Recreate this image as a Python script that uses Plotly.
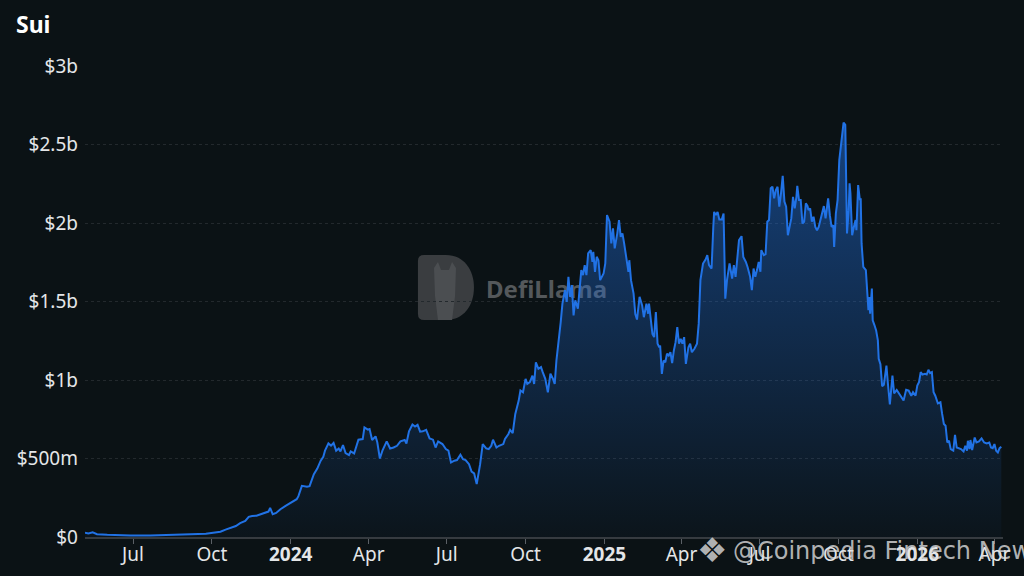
import plotly.graph_objects as go

# Sui TVL in $m
tvl_2023 = [
    ("2023-05-06", 28), ("2023-05-10", 22), ("2023-05-15", 30), ("2023-05-20", 18),
    ("2023-06-01", 14), ("2023-06-13", 10), ("2023-06-28", 9), ("2023-07-21", 10),
    ("2023-08-14", 12), ("2023-09-06", 17), ("2023-09-24", 21), ("2023-10-03", 30),
    ("2023-10-11", 34), ("2023-10-17", 47), ("2023-10-23", 59), ("2023-10-29", 70),
    ("2023-11-03", 88), ("2023-11-09", 102), ("2023-11-13", 128), ("2023-11-17", 134),
    ("2023-11-22", 136), ("2023-11-29", 149), ("2023-12-06", 162), ("2023-12-08", 185),
    ("2023-12-11", 145), ("2023-12-15", 153), ("2023-12-20", 177), ("2023-12-26", 198),
    ("2023-12-31", 213),
]

tvl_2024 = [
    ("2024-01-04", 225), ("2024-01-08", 241), ("2024-01-10", 260), ("2024-01-14", 326),
    ("2024-01-20", 320), ("2024-01-23", 324), ("2024-01-28", 400), ("2024-02-01", 436),
    ("2024-02-05", 486), ("2024-02-08", 511), ("2024-02-10", 550), ("2024-02-14", 596),
    ("2024-02-17", 582), ("2024-02-20", 599), ("2024-02-23", 550), ("2024-02-26", 564),
    ("2024-02-28", 545), ("2024-03-02", 586), ("2024-03-05", 535), ("2024-03-09", 522),
    ("2024-03-11", 545), ("2024-03-15", 532), ("2024-03-20", 620), ("2024-03-25", 624),
    ("2024-03-27", 698), ("2024-03-31", 684), ("2024-04-02", 688), ("2024-04-05", 618),
    ("2024-04-09", 641), ("2024-04-11", 603), ("2024-04-14", 500), ("2024-04-17", 550),
    ("2024-04-22", 609), ("2024-04-26", 564), ("2024-04-30", 570), ("2024-05-04", 581),
    ("2024-05-08", 609), ("2024-05-13", 618), ("2024-05-15", 596), ("2024-05-18", 673),
    ("2024-05-22", 716), ("2024-05-25", 703), ("2024-05-28", 714), ("2024-05-31", 671),
    ("2024-06-03", 673), ("2024-06-07", 682), ("2024-06-11", 628), ("2024-06-15", 620),
    ("2024-06-18", 570), ("2024-06-21", 609), ("2024-06-26", 592), ("2024-06-30", 560),
    ("2024-07-03", 550), ("2024-07-06", 475), ("2024-07-10", 486), ("2024-07-13", 490),
    ("2024-07-17", 524), ("2024-07-20", 496), ("2024-07-23", 490), ("2024-07-27", 464),
    ("2024-07-30", 417), ("2024-08-02", 405), ("2024-08-05", 337), ("2024-08-09", 464),
    ("2024-08-12", 592), ("2024-08-16", 564), ("2024-08-19", 560), ("2024-08-22", 581),
    ("2024-08-24", 620), ("2024-08-28", 570), ("2024-08-31", 581), ("2024-09-05", 592),
    ("2024-09-07", 624), ("2024-09-11", 656), ("2024-09-13", 682), ("2024-09-16", 662),
    ("2024-09-19", 784), ("2024-09-23", 869), ("2024-09-25", 933), ("2024-09-28", 922),
    ("2024-10-01", 1007), ("2024-10-03", 975), ("2024-10-06", 986), ("2024-10-09", 1028),
    ("2024-10-11", 975), ("2024-10-13", 1113), ("2024-10-16", 1071), ("2024-10-19", 1082),
    ("2024-10-21", 1050), ("2024-10-24", 1007), ("2024-10-27", 922), ("2024-10-30", 1040),
    ("2024-11-02", 1007), ("2024-11-04", 975), ("2024-11-06", 1125), ("2024-11-09", 1252),
    ("2024-11-11", 1369), ("2024-11-13", 1487), ("2024-11-16", 1572), ("2024-11-18", 1497),
    ("2024-11-20", 1657), ("2024-11-22", 1529), ("2024-11-24", 1604), ("2024-11-26", 1412),
    ("2024-11-28", 1508), ("2024-12-01", 1454), ("2024-12-03", 1572), ("2024-12-05", 1700),
    ("2024-12-07", 1668), ("2024-12-09", 1732), ("2024-12-11", 1668), ("2024-12-13", 1806),
    ("2024-12-16", 1827), ("2024-12-18", 1752), ("2024-12-19", 1816), ("2024-12-21", 1689),
    ("2024-12-23", 1785), ("2024-12-25", 1763), ("2024-12-27", 1636), ("2024-12-29", 1657),
    ("2024-12-31", 1678),
]

tvl_2025 = [
    ("2025-01-02", 1742), ("2025-01-04", 2050), ("2025-01-07", 2008), ("2025-01-09", 1870),
    ("2025-01-11", 1966), ("2025-01-13", 1838), ("2025-01-16", 1934), ("2025-01-18", 2019),
    ("2025-01-20", 1912), ("2025-01-22", 1934), ("2025-01-24", 1870), ("2025-01-27", 1763),
    ("2025-01-29", 1689), ("2025-01-30", 1763), ("2025-02-01", 1636), ("2025-02-04", 1550),
    ("2025-02-06", 1420), ("2025-02-08", 1385), ("2025-02-11", 1530), ("2025-02-14", 1475),
    ("2025-02-16", 1400), ("2025-02-19", 1486), ("2025-02-21", 1422), ("2025-02-22", 1486),
    ("2025-02-24", 1380), ("2025-02-26", 1294), ("2025-02-28", 1273), ("2025-03-02", 1433),
    ("2025-03-04", 1231), ("2025-03-06", 1209), ("2025-03-07", 1220), ("2025-03-09", 1039),
    ("2025-03-11", 1124), ("2025-03-13", 1113), ("2025-03-15", 1167), ("2025-03-17", 1156),
    ("2025-03-19", 1177), ("2025-03-21", 1107), ("2025-03-23", 1188), ("2025-03-25", 1241),
    ("2025-03-27", 1337), ("2025-03-29", 1231), ("2025-03-31", 1263), ("2025-04-02", 1231),
    ("2025-04-04", 1273), ("2025-04-06", 1103), ("2025-04-09", 1209), ("2025-04-11", 1231),
    ("2025-04-13", 1177), ("2025-04-16", 1199), ("2025-04-19", 1231), ("2025-04-21", 1359),
    ("2025-04-23", 1636), ("2025-04-26", 1742), ("2025-04-29", 1767), ("2025-05-01", 1795),
    ("2025-05-03", 1732), ("2025-05-06", 1710), ("2025-05-08", 1975), ("2025-05-09", 2071),
    ("2025-05-11", 2050), ("2025-05-13", 2071), ("2025-05-15", 2023), ("2025-05-18", 2023),
    ("2025-05-20", 2061), ("2025-05-22", 1518), ("2025-05-24", 1636), ("2025-05-27", 1742),
    ("2025-05-30", 1646), ("2025-06-01", 1732), ("2025-06-03", 1657), ("2025-06-07", 1891),
    ("2025-06-10", 1916), ("2025-06-12", 1784), ("2025-06-15", 1752), ("2025-06-17", 1720),
    ("2025-06-20", 1657), ("2025-06-22", 1572), ("2025-06-24", 1710), ("2025-06-26", 1657),
    ("2025-06-28", 1700), ("2025-06-30", 1752), ("2025-07-02", 1689), ("2025-07-03", 1827),
    ("2025-07-06", 1795), ("2025-07-08", 1801), ("2025-07-10", 2008), ("2025-07-12", 2019),
    ("2025-07-14", 2221), ("2025-07-16", 2231), ("2025-07-18", 2157), ("2025-07-20", 2210),
    ("2025-07-22", 2231), ("2025-07-24", 2104), ("2025-07-26", 2189), ("2025-07-28", 2300),
    ("2025-07-30", 2136), ("2025-08-01", 2104), ("2025-08-03", 1922), ("2025-08-05", 1975),
    ("2025-08-07", 2029), ("2025-08-09", 2167), ("2025-08-11", 2093), ("2025-08-13", 2167),
    ("2025-08-14", 2236), ("2025-08-16", 2146), ("2025-08-18", 2146), ("2025-08-20", 1997),
    ("2025-08-22", 2008), ("2025-08-24", 2125), ("2025-08-26", 2108), ("2025-08-27", 2082),
    ("2025-08-29", 2093), ("2025-08-31", 2008), ("2025-09-02", 2040), ("2025-09-04", 1975),
    ("2025-09-06", 1954), ("2025-09-08", 1975), ("2025-09-10", 2019), ("2025-09-12", 2061),
    ("2025-09-14", 2108), ("2025-09-16", 2029), ("2025-09-18", 2146), ("2025-09-19", 2157),
    ("2025-09-21", 2050), ("2025-09-23", 1975), ("2025-09-25", 1986), ("2025-09-26", 1848),
    ("2025-09-28", 2061), ("2025-09-30", 2146), ("2025-10-02", 2401), ("2025-10-04", 2486),
    ("2025-10-06", 2561), ("2025-10-07", 2640), ("2025-10-09", 2625), ("2025-10-10", 2359),
    ("2025-10-11", 1934), ("2025-10-13", 2082), ("2025-10-14", 2253), ("2025-10-15", 2189),
    ("2025-10-17", 1922), ("2025-10-19", 1975), ("2025-10-21", 2019), ("2025-10-22", 1954),
    ("2025-10-24", 2242), ("2025-10-26", 2146), ("2025-10-27", 2157), ("2025-10-28", 1870),
    ("2025-10-30", 1720), ("2025-11-02", 1700), ("2025-11-04", 1520), ("2025-11-05", 1444),
    ("2025-11-06", 1529), ("2025-11-07", 1422), ("2025-11-09", 1582), ("2025-11-10", 1380),
    ("2025-11-12", 1350), ("2025-11-14", 1316), ("2025-11-16", 1252), ("2025-11-17", 1135),
    ("2025-11-19", 1100), ("2025-11-21", 960), ("2025-11-23", 970), ("2025-11-26", 1092),
    ("2025-11-28", 960), ("2025-11-30", 845), ("2025-12-03", 1028), ("2025-12-05", 915),
    ("2025-12-08", 937), ("2025-12-11", 911), ("2025-12-13", 900), ("2025-12-16", 869),
    ("2025-12-19", 937), ("2025-12-22", 932), ("2025-12-25", 900), ("2025-12-27", 922),
    ("2025-12-30", 900),
]

tvl_2026 = [
    ("2026-01-01", 964), ("2026-01-03", 986), ("2026-01-05", 1050), ("2026-01-07", 1035),
    ("2026-01-10", 1039), ("2026-01-12", 1035), ("2026-01-14", 1065), ("2026-01-16", 1044),
    ("2026-01-18", 1050), ("2026-01-20", 922), ("2026-01-22", 900), ("2026-01-25", 851),
    ("2026-01-28", 858), ("2026-01-30", 784), ("2026-02-01", 720), ("2026-02-03", 709),
    ("2026-02-05", 602), ("2026-02-07", 613), ("2026-02-09", 560), ("2026-02-12", 550),
    ("2026-02-14", 650), ("2026-02-16", 570), ("2026-02-19", 564), ("2026-02-21", 560),
    ("2026-02-24", 545), ("2026-02-26", 581), ("2026-02-28", 550), ("2026-03-01", 613),
    ("2026-03-03", 560), ("2026-03-04", 618), ("2026-03-06", 554), ("2026-03-09", 634),
    ("2026-03-11", 602), ("2026-03-14", 609), ("2026-03-17", 628), ("2026-03-20", 602),
    ("2026-03-23", 596), ("2026-03-26", 602), ("2026-03-28", 570), ("2026-03-30", 566),
    ("2026-04-01", 592), ("2026-04-03", 550), ("2026-04-05", 539), ("2026-04-07", 566),
    ("2026-04-09", 575),
]

x_tick_dates = ["2023-07-01", "2023-10-01", "2024-01-01", "2024-04-01", "2024-07-01",
                "2024-10-01", "2025-01-01", "2025-04-01", "2025-07-01", "2025-10-01",
                "2026-01-01", "2026-04-01"]
x_tick_labels = ["Jul", "Oct", "<b>2024</b>", "Apr", "Jul", "Oct", "<b>2025</b>",
                 "Apr", "Jul", "Oct", "<b>2026</b>", "Apr"]
y_tick_vals = [0, 500, 1000, 1500, 2000, 2500, 3000]
y_tick_labels = ["$0", "$500m", "$1b", "$1.5b", "$2b", "$2.5b", "$3b"]

rows = tvl_2023 + tvl_2024 + tvl_2025 + tvl_2026
dates = [d for d, _ in rows]
tvl = [v for _, v in rows]

BG = "#0b1215"
LINE = "#2172E5"
W, H = 1024, 576
M_L, M_R, M_T, M_B = 85, 21, 66, 39


def px(x, y):
    """page pixel -> paper coords (for the watermark decorations)"""
    return (x - M_L) / (W - M_L - M_R), (H - M_B - y) / (H - M_T - M_B)


def path(points):
    out = []
    for cmd, pts in points:
        coords = " ".join("%.4f,%.4f" % px(*p) for p in pts)
        out.append(cmd + " " + coords)
    return " ".join(out) + " Z"


fig = go.Figure()

fig.add_trace(go.Scatter(
    x=dates, y=tvl,
    mode="lines",
    line=dict(color=LINE, width=2),
    fill="tozeroy",
    fillgradient=dict(
        type="vertical",
        colorscale=[[0, "rgba(33,114,229,0.03)"], [1, "rgba(33,114,229,0.5)"]],
    ),
    hoverinfo="skip",
))

# DefiLlama watermark (logo + wordmark), drawn under the data
d_logo = path([
    ("M", [(424, 255)]), ("L", [(446, 255)]),
    ("C", [(464, 255), (474, 270), (474, 287.5)]),
    ("C", [(474, 305), (464, 320), (446, 320)]),
    ("L", [(424, 320)]), ("Q", [(418, 320), (418, 314)]),
    ("L", [(418, 261)]), ("Q", [(418, 255), (424, 255)]),
])
llama = path([
    ("M", [(434, 268)]), ("L", [(438, 262)]), ("L", [(441, 270)]),
    ("L", [(449, 270)]), ("L", [(452, 262)]), ("L", [(456, 268)]),
    ("L", [(455, 296)]), ("L", [(452, 320)]), ("L", [(438, 320)]),
    ("L", [(435, 296)]),
])
fig.add_shape(type="path", path=d_logo, xref="paper", yref="paper",
              fillcolor="#3a3d40", line=dict(width=0), layer="below")
fig.add_shape(type="path", path=llama, xref="paper", yref="paper",
              fillcolor="#4b4e51", line=dict(width=0), layer="below")
lx0, ly0 = px(480, 276)
lx1, ly1 = px(608, 304)
fig.add_shape(type="rect", xref="paper", yref="paper", x0=lx0, x1=lx1, y0=ly1, y1=ly0,
              line=dict(width=0), fillcolor="rgba(0,0,0,0)", layer="below",
              label=dict(text="<b>DefiLlama</b>", textposition="middle left",
                         font=dict(family="Noto Sans", size=24, color="#54585b")))

# Coinpedia watermark
ax, ay = px(731, 551)
fig.add_annotation(x=ax, y=ay, xref="paper", yref="paper", xanchor="left", yanchor="middle",
                   text="@Coinpedia Fintech News", showarrow=False,
                   font=dict(family="DejaVu Sans", size=24, color="rgba(222,222,222,0.8)"))
bx, by = px(712, 550)
fig.add_annotation(x=bx, y=by, xref="paper", yref="paper", xanchor="center", yanchor="middle",
                   text="❖", showarrow=False,
                   font=dict(family="DejaVu Sans", size=34, color="rgba(222,222,222,0.8)"))

fig.update_layout(
    width=W, height=H,
    paper_bgcolor=BG, plot_bgcolor=BG,
    margin=dict(l=M_L, r=M_R, t=M_T, b=M_B),
    showlegend=False,
    font=dict(family="Noto Sans", size=19, color="#e4e6e8"),
    title=dict(text="<b>Sui</b>", x=16 / W, xanchor="left", y=1 - 25 / H, yanchor="middle",
               font=dict(family="Noto Sans", size=23, color="#ffffff")),
    xaxis=dict(
        type="date",
        range=[dates[0], "2026-04-11"],
        tickvals=x_tick_dates, ticktext=x_tick_labels,
        showgrid=False, zeroline=False, automargin=False,
        showline=True, linecolor="#363b40", linewidth=2,
        ticks="outside", ticklen=5, tickcolor="#5b6066", tickwidth=1,
        ticklabelstandoff=-6,
        tickfont=dict(size=19, color="#e4e6e8"),
    ),
    yaxis=dict(
        range=[0, 3000],
        tickvals=y_tick_vals, ticktext=y_tick_labels,
        showgrid=True, gridcolor="#23292d", gridwidth=1, griddash="dot",
        zeroline=False, showline=False, ticks="", automargin=False,
        ticklabelstandoff=6,
        tickfont=dict(size=19, color="#e4e6e8"),
    ),
)

# drop the browser's default 8px body margin so the figure sits at the page corner
fig.write_html("out.html", config={"displayModeBar": False},
               post_script="document.body.style.margin='0';")
